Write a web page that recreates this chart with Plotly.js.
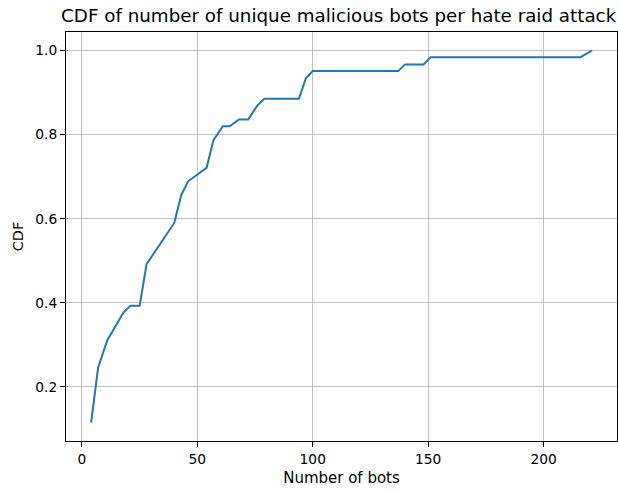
<!DOCTYPE html>
<html>
<head>
<meta charset="utf-8">
<script src="https://cdn.plot.ly/plotly-3.0.1.min.js"></script>
<style>html,body{margin:0;padding:0;background:#fff;}#chart{width:618px;height:493px;}</style>
</head>
<body>
<div id="chart"></div>
<script>
const numBots = [4, 7, 11, 18, 21, 25, 28, 40, 43, 46, 54, 57, 61, 64, 68, 72, 76, 79, 94, 97, 100, 137, 140, 148, 151, 216, 221];
const cdfValues = [0.115, 0.246, 0.311, 0.377, 0.393, 0.393, 0.492, 0.590, 0.656, 0.689, 0.721, 0.787, 0.820, 0.820, 0.836, 0.836, 0.869, 0.885, 0.885, 0.934, 0.951, 0.951, 0.967, 0.967, 0.984, 0.984, 1.0];
const xTicks = [0, 50, 100, 150, 200];
const yTicks = [0.2, 0.4, 0.6, 0.8, 1.0];

const font = "DejaVu Sans, sans-serif";
const axisCommon = {
  showgrid: true, gridcolor: "#b0b0b0", gridwidth: 0.8,
  showline: true, linecolor: "#000", linewidth: 1, mirror: true,
  ticks: "outside", ticklen: 5, tickwidth: 1, tickcolor: "#000",
  zeroline: false, tickfont: {family: font, size: 13.8, color: "#000"}
};
Plotly.newPlot("chart", [{
  x: numBots, y: cdfValues, type: "scatter", mode: "lines",
  line: {color: "#1f77b4", width: 2}
}], {
  width: 618, height: 493,
  margin: {l: 66, r: 1, t: 32, b: 52},
  paper_bgcolor: "#fff", plot_bgcolor: "#fff",
  showlegend: false,
  title: {text: "CDF of number of unique malicious bots per hate raid attack",
          font: {family: font, size: 18.3, color: "#000"}, x: 0.548, xanchor: "center", y: 0.968, yanchor: "middle"},
  xaxis: Object.assign({}, axisCommon, {
    range: [-6.9, 231.8], tickvals: xTicks, ticktext: xTicks.map(String),
    title: {text: "Number of bots", font: {family: font, size: 15, color: "#000"}, standoff: 6}
  }),
  yaxis: Object.assign({}, axisCommon, {
    range: [0.0715, 1.044], tickvals: yTicks, ticktext: yTicks.map(v => v.toFixed(1)),
    title: {text: "CDF", font: {family: font, size: 14.5, color: "#000"}, standoff: 8}
  })
}, {displayModeBar: false, staticPlot: true});
</script>
</body>
</html>
